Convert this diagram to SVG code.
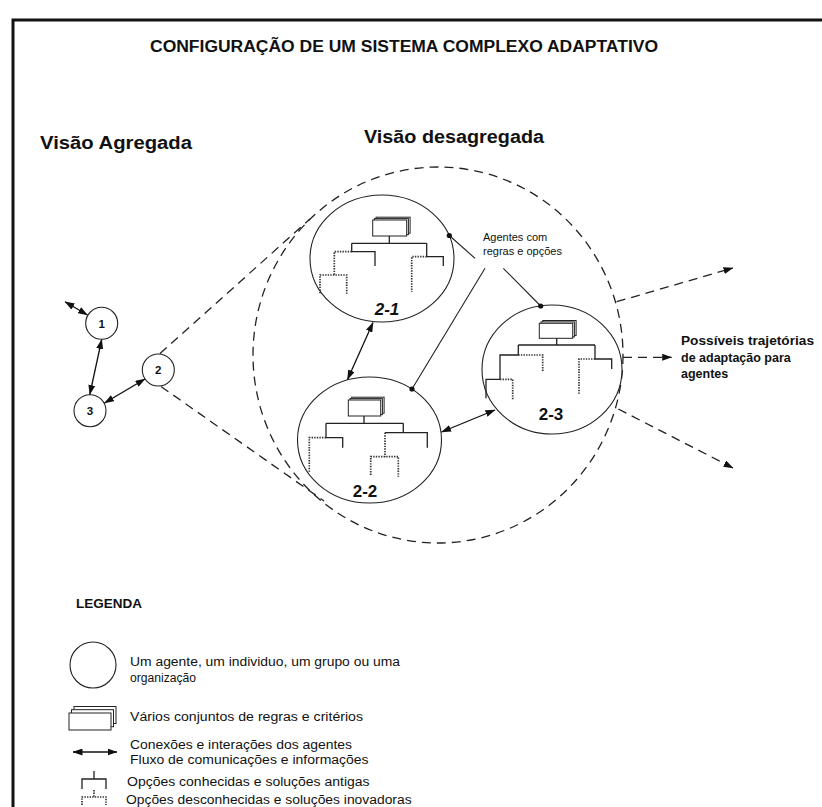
<svg xmlns="http://www.w3.org/2000/svg" width="822" height="807" viewBox="0 0 822 807">
<style>
text{font-family:"Liberation Sans",Arial,sans-serif;fill:#111}
.b{font-weight:bold}
.ln{fill:none;stroke:#222;stroke-width:1.1}
.dash{fill:none;stroke:#222;stroke-width:1.3;stroke-dasharray:9 6}
.s{fill:none;stroke:#222;stroke-width:1.3}
.d{fill:none;stroke:#333;stroke-width:1.7;stroke-dasharray:1.4 1.2}
.rule{fill:#fff;stroke:#222;stroke-width:1}
.circ{fill:#fff;stroke:#222;stroke-width:1.1}
.arr{fill:none;stroke:#111;stroke-width:1.3;marker-start:url(#ah);marker-end:url(#ah)}
.darr{fill:none;stroke:#222;stroke-width:1.3;stroke-dasharray:9 6;marker-end:url(#ah)}
.num{font-size:11.5px;font-weight:bold;text-anchor:middle}
.lab{font-size:17px;font-weight:bold;text-anchor:middle}
.lg{font-size:12.5px}
</style>
<defs>
<marker id="ah" viewBox="0 0 10 7" refX="9.5" refY="3.5" markerWidth="10" markerHeight="7" markerUnits="userSpaceOnUse" orient="auto-start-reverse"><path d="M0 0L10 3.5L0 7z" fill="#111"/></marker>
</defs>
<rect width="822" height="807" fill="#fff"/>
<path d="M13 807V20H822" fill="none" stroke="#111" stroke-width="3"/>

<text class="b" x="150" y="52" font-size="16" textLength="508" lengthAdjust="spacingAndGlyphs">CONFIGURAÇÃO DE UM SISTEMA COMPLEXO ADAPTATIVO</text>
<text class="b" x="40" y="149" font-size="18" textLength="152" lengthAdjust="spacingAndGlyphs">Visão Agregada</text>
<text class="b" x="364" y="143" font-size="18" textLength="180" lengthAdjust="spacingAndGlyphs">Visão desagregada</text>

<g id="agg-boundary">
<ellipse class="dash" cx="438" cy="355" rx="185" ry="188"/>
</g>

<g id="n21">
<ellipse class="circ" cx="382" cy="258.5" rx="72" ry="63.5"/>
<rect class="rule" x="376.1" y="217.2" width="34" height="16"/>
<rect class="rule" x="374.4" y="218.6" width="34" height="16"/>
<rect class="rule" x="372.7" y="220" width="34" height="16"/>
<path class="s" d="M389.3 236V243.3M351.7 243.3H426.7M351.7 243.3V251.7H375V266M426.7 243.3V256.7H443.3V266"/>
<path class="d" d="M351.7 251.7H334.3V275M320 293.3V275H346.7V295M426.7 256.7H411.7V291.7"/>
<text class="lab" x="387" y="315" font-style="italic">2-1</text>
</g>

<g id="n22">
<ellipse class="circ" cx="369.5" cy="440" rx="72" ry="63"/>
<rect class="rule" x="351.7" y="397.2" width="32.4" height="16"/>
<rect class="rule" x="350" y="398.6" width="32.4" height="16"/>
<rect class="rule" x="348.3" y="400" width="32.4" height="16"/>
<path class="s" d="M364 416V423.3M326 423.3H403.3M326 423.3V437.7H342.7V447.7M403.3 423.3V432.7M385 432.7H427.3V447.7"/>
<path class="d" d="M326 437.7H309.3V471.7M385 432.7V456.7M370.7 475V456.7H398.3V476.7"/>
<text class="lab" x="365" y="497">2-2</text>
</g>

<g id="n23">
<ellipse class="circ" cx="552" cy="369.5" rx="70" ry="64.5"/>
<rect class="rule" x="542.7" y="320.5" width="33.4" height="15"/>
<rect class="rule" x="541" y="321.9" width="33.4" height="15"/>
<rect class="rule" x="539.3" y="323.3" width="33.4" height="15"/>
<path class="s" d="M556.7 338.3V345M518.3 345H595M518.3 345V355H500V379.3H486V398.3M595 345V359H611.7V369"/>
<path class="d" d="M518.3 355H542.7V371.7M500 379.3H512.7V400M595 359H579V394.3"/>
<text class="lab" x="551" y="420">2-3</text>
</g>

<g id="n1">
<circle class="circ" cx="101.7" cy="323.3" r="16"/>
<text class="num" x="101.7" y="327.5">1</text>
</g>
<g id="n2">
<circle class="circ" cx="158.3" cy="370" r="16"/>
<text class="num" x="158.3" y="374.2">2</text>
</g>
<g id="n3">
<circle class="circ" cx="90" cy="410.7" r="16"/>
<text class="num" x="90" y="414.9">3</text>
</g>

<g id="connectors">
<path class="dash" d="M160 353.5L310 219"/>
<path class="dash" d="M161 386.5L324 501"/>
<path class="arr" d="M65 301.7L87.5 315"/>
<path class="arr" d="M101.7 339.5L89.8 394.5"/>
<path class="arr" d="M104.5 403L145 379"/>
<path class="arr" d="M373 322.5L347.5 379.5"/>
<path class="arr" d="M441.5 432L495 410"/>
<path class="ln" d="M449.3 235.5L475 258.3M485 268.3L412 389M503.3 268.3L540.7 306"/>
<circle cx="449.3" cy="235.5" r="2.6" fill="#111"/>
<circle cx="412" cy="389" r="2.6" fill="#111"/>
<circle cx="540.7" cy="306" r="2.6" fill="#111"/>
<path class="darr" d="M616.7 301.7L733 268"/>
<path class="darr" d="M623 357.3L671.7 357.3"/>
<path class="darr" d="M618.3 409L733 468"/>
</g>

<g id="agents-label">
<text x="483" y="241" font-size="11">Agentes com</text>
<text x="483" y="254.5" font-size="11">regras e opções</text>
</g>
<g id="trajectories-label">
<text class="b" x="681" y="345" font-size="12.5" textLength="133" lengthAdjust="spacingAndGlyphs">Possíveis trajetórias</text>
<text class="b" x="681" y="361.5" font-size="12.5">de adaptação para</text>
<text class="b" x="681" y="378" font-size="12.5">agentes</text>
</g>

<g id="legend">
<text class="b" x="76" y="608" font-size="13.5">LEGENDA</text>
<circle class="circ" cx="93" cy="665" r="23"/>
<text class="lg" x="130" y="666" textLength="270" lengthAdjust="spacingAndGlyphs">Um agente, um individuo, um grupo ou uma</text>
<text class="lg" x="130" y="682" textLength="66" lengthAdjust="spacingAndGlyphs">organização</text>
<rect class="rule" x="74" y="706.5" width="42" height="17"/>
<rect class="rule" x="71.5" y="709.7" width="42" height="17"/>
<rect class="rule" x="69" y="713" width="42" height="17"/>
<text class="lg" x="130" y="721" textLength="233" lengthAdjust="spacingAndGlyphs">Vários conjuntos de regras e critérios</text>
<path class="arr" d="M73 752H117"/>
<text class="lg" x="130" y="749" textLength="222" lengthAdjust="spacingAndGlyphs">Conexões e interações dos agentes</text>
<text class="lg" x="130" y="763.5" textLength="238.6" lengthAdjust="spacingAndGlyphs">Fluxo de comunicações e informações</text>
<path class="s" d="M94 771V779M82 789V779H106V789"/>
<text class="lg" x="127" y="786" textLength="242.6" lengthAdjust="spacingAndGlyphs">Opções conhecidas e soluções antigas</text>
<path class="d" d="M94 790V797M82 805V797H106V805"/>
<text class="lg" x="126" y="804" textLength="285.6" lengthAdjust="spacingAndGlyphs">Opções desconhecidas e soluções inovadoras</text>
</g>
</svg>
